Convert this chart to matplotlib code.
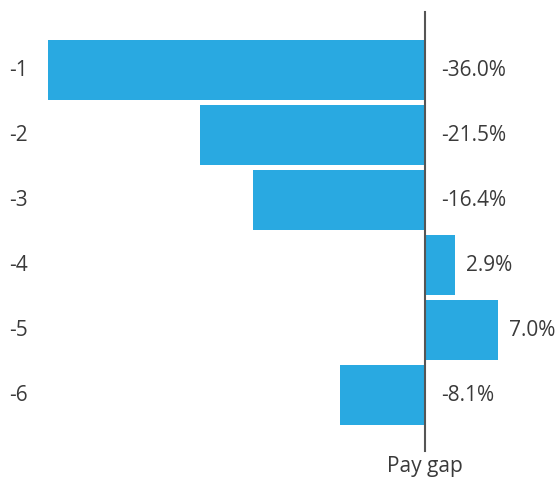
import matplotlib.pyplot as plt
import matplotlib.transforms as mtransforms

plt.rcParams["font.family"] = ["Open Sans", "DejaVu Sans"]

categories = ["-1", "-2", "-3", "-4", "-5", "-6"]
pay_gap = [-36.0, -21.5, -16.4, 2.9, 7.0, -8.1]

BAR_COLOR = "#29a9e1"
TEXT_COLOR = "#3a3a3a"
FS = 15

fig = plt.figure(figsize=(5.58, 4.86), dpi=100)
ax = fig.add_axes([0, 0, 1, 1])

ypos = list(range(len(categories)))
ax.barh(ypos, pay_gap, height=0.91, color=BAR_COLOR, zorder=2)

# zero line spanning most of the height
ax.axvline(0, ymin=0.072, ymax=0.975, color="#555555", linewidth=1.5, zorder=3)

ax.set_xlim(-40.59, 12.70)
ax.set_ylim(6.4, -1.077)
ax.axis("off")

# category labels on the left
trans = mtransforms.blended_transform_factory(ax.transAxes, ax.transData)
for y, cat in zip(ypos, categories):
    ax.text(0.017, y, cat, transform=trans, ha="left", va="center",
            fontsize=FS, color=TEXT_COLOR)

# value labels right of the zero line or the bar end
for y, v in zip(ypos, pay_gap):
    pad = 11.5 if v < 0 else 7.5
    ax.annotate(f"{v:.1f}%", xy=(max(v, 0), y), xytext=(pad, 0),
                textcoords="offset points", ha="left", va="center",
                fontsize=FS, color=TEXT_COLOR)

ax.text(0, 0.018, "Pay gap", transform=mtransforms.blended_transform_factory(ax.transData, ax.transAxes),
        ha="center", va="bottom", fontsize=FS, color=TEXT_COLOR)

fig.savefig("out.png", dpi=100)
